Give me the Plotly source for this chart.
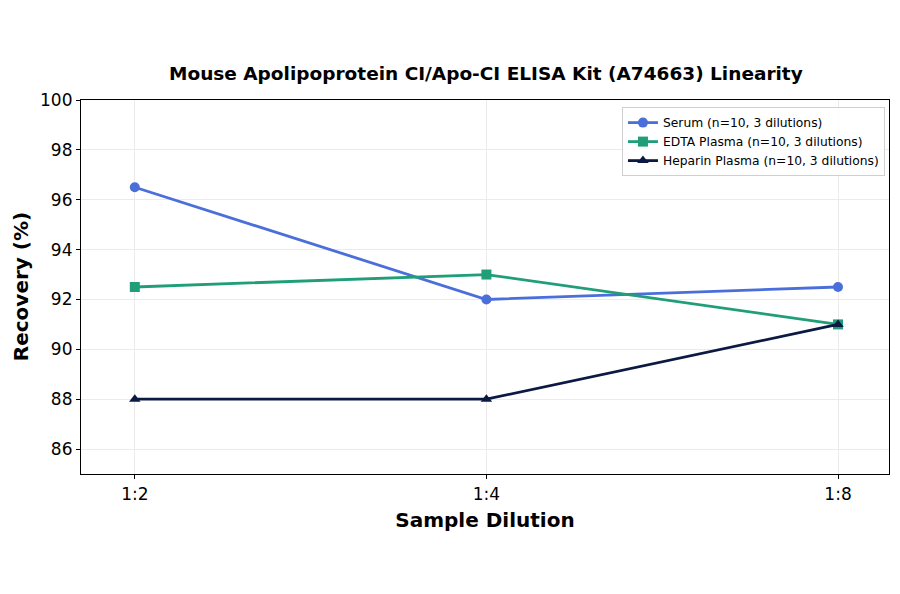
import plotly.graph_objects as go

# data
dilutions = ["1:2", "1:4", "1:8"]
serum = [96.5, 92.0, 92.5]
edta = [92.5, 93.0, 91.0]
heparin = [88.0, 88.0, 91.0]
y_ticks = [86, 88, 90, 92, 94, 96, 98, 100]

series = [
    ("Serum (n=10, 3 dilutions)", serum, "#4a6fdb", "circle"),
    ("EDTA Plasma (n=10, 3 dilutions)", edta, "#1f9e78", "square"),
    ("Heparin Plasma (n=10, 3 dilutions)", heparin, "#0c1943", "triangle-up"),
]

fig = go.Figure()
for name, vals, col, sym in series:
    fig.add_trace(go.Scatter(
        x=[0, 1, 2], y=vals, name=name, mode="lines+markers",
        line=dict(color=col, width=2.8),
        marker=dict(color=col, symbol=sym, size=10),
    ))

font = "DejaVu Sans, Arial, sans-serif"
fig.update_layout(
    width=900, height=594,
    margin=dict(l=73, r=19, t=92, b=128, autoexpand=False),
    paper_bgcolor="white", plot_bgcolor="white",
    font=dict(family=font, color="black"),
    title=dict(text="<b>Mouse Apolipoprotein CI/Apo-CI ELISA Kit (A74663) Linearity</b>",
               x=0.531, xanchor="center", y=0.89, yanchor="middle",
               font=dict(size=18.5)),
    showlegend=True,
    legend=dict(x=0.995, xanchor="right", y=0.981, yanchor="top",
                bgcolor="rgba(255,255,255,0.9)", bordercolor="#d0d0d0", borderwidth=1,
                font=dict(size=12.3), tracegroupgap=0, itemwidth=30),
)
# y axis title as a rotated annotation so it can sit close to the edge
fig.add_annotation(text="<b>Recovery (%)</b>", textangle=-90,
                   xref="paper", yref="paper", x=-0.074, y=0.5,
                   xanchor="center", yanchor="middle", showarrow=False,
                   borderpad=0, font=dict(size=20))
fig.update_xaxes(
    tickvals=[0, 1, 2], ticktext=dilutions, range=[-0.153, 2.145],
    showgrid=True, gridcolor="#ebebeb", gridwidth=1,
    showline=True, linecolor="black", linewidth=1.2, mirror=True,
    ticks="outside", ticklen=4, tickcolor="black", tickfont=dict(size=17),
    title=dict(text="<b>Sample Dilution</b>", font=dict(size=20), standoff=10),
    zeroline=False,
)
fig.update_yaxes(
    tickvals=y_ticks, range=[85, 100],
    showgrid=True, gridcolor="#ebebeb", gridwidth=1,
    showline=True, linecolor="black", linewidth=1.2, mirror=True,
    ticks="outside", ticklen=4, tickcolor="black", tickfont=dict(size=17),
    zeroline=False,
)

fig.write_html("out.html")
